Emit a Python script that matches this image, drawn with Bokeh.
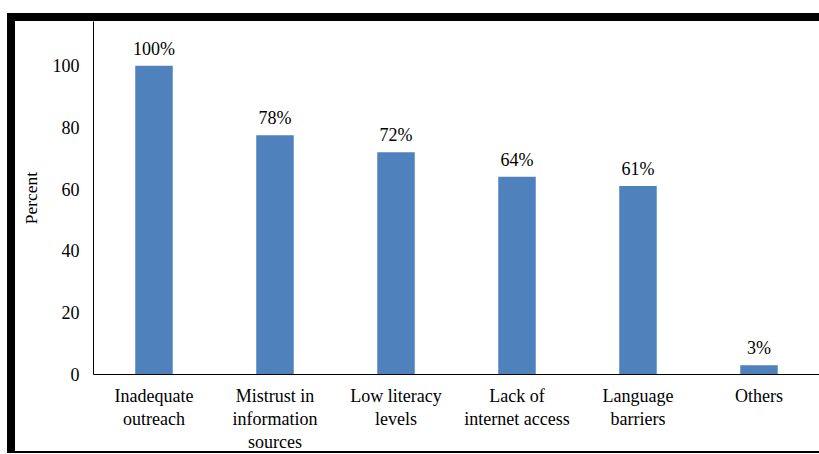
from bokeh.plotting import figure
from bokeh.models import ColumnDataSource, LabelSet, FactorRange, Range1d, FixedTicker, InlineStyleSheet
from bokeh.core.properties import value
from bokeh.embed import file_html
from bokeh.resources import INLINE

categories = ["Inadequate\noutreach", "Mistrust in\ninformation\nsources", "Low literacy\nlevels",
              "Lack of\ninternet access", "Language\nbarriers", "Others"]
percent = [100, 77.5, 72, 64, 61, 3]
labels = ["100%", "78%", "72%", "64%", "61%", "3%"]
y_ticks = [0, 20, 40, 60, 80, 100]

FONT = "Liberation Serif"
BAR = "#4F81BD"

src = ColumnDataSource(data=dict(cat=categories, val=percent, lab=labels))

p = figure(width=819, height=454, output_backend="svg", toolbar_location=None,
           x_range=FactorRange(*categories, range_padding=0),
           y_range=Range1d(0, 114.3),
           min_border_left=93, min_border_top=21, min_border_bottom=76, min_border_right=0)

p.vbar(x="cat", top="val", width=0.31, source=src, fill_color=BAR, line_color=None)

p.add_layout(LabelSet(x="cat", y="val", text="lab", source=src, text_align="center",
                      text_baseline="bottom", y_offset=7, text_font=value(FONT),
                      text_font_size="18px", text_color="#000000"))

p.outline_line_color = None
p.grid.grid_line_color = None
p.background_fill_color = "white"
p.border_fill_color = "white"

# y axis
p.yaxis.ticker = FixedTicker(ticks=y_ticks)
p.yaxis.axis_line_color = "black"
p.yaxis.axis_line_width = 1
p.yaxis.major_tick_line_color = None
p.yaxis.minor_tick_line_color = None
p.yaxis.major_tick_out = 0
p.yaxis.major_tick_in = 0
p.yaxis.major_label_standoff = 14
p.yaxis.major_label_text_font = FONT
p.yaxis.major_label_text_font_size = "18px"
p.yaxis.major_label_text_color = "black"
p.yaxis.axis_label = "Percent"
p.yaxis.axis_label_text_font = FONT
p.yaxis.axis_label_text_font_size = "17.5px"
p.yaxis.axis_label_text_font_style = "normal"
p.yaxis.axis_label_text_color = "black"
p.yaxis.axis_label_standoff = 9

# x axis
p.xaxis.axis_line_color = "black"
p.xaxis.axis_line_width = 1
p.xaxis.major_tick_line_color = None
p.xaxis.minor_tick_line_color = None
p.xaxis.major_tick_out = 0
p.xaxis.major_tick_in = 0
p.xaxis.major_label_standoff = 11
p.xaxis.major_label_text_font = FONT
p.xaxis.major_label_text_font_size = "18px"
p.xaxis.major_label_text_color = "black"
p.xaxis.major_label_text_line_height = 1.15

# outer black frame around the picture (decoration overlay)
p.stylesheets = [InlineStyleSheet(css="""
:host { position: relative; }
:host::after {
  content: "";
  position: absolute;
  left: 7px; top: 13px;
  width: 812px; height: 440px;
  box-sizing: border-box;
  border-left: 8px solid #000;
  border-top: 8px solid #000;
  border-bottom: 2px solid #000;
  pointer-events: none;
  z-index: 10;
}
""")]

open("out.html", "w").write(file_html(p, INLINE))
